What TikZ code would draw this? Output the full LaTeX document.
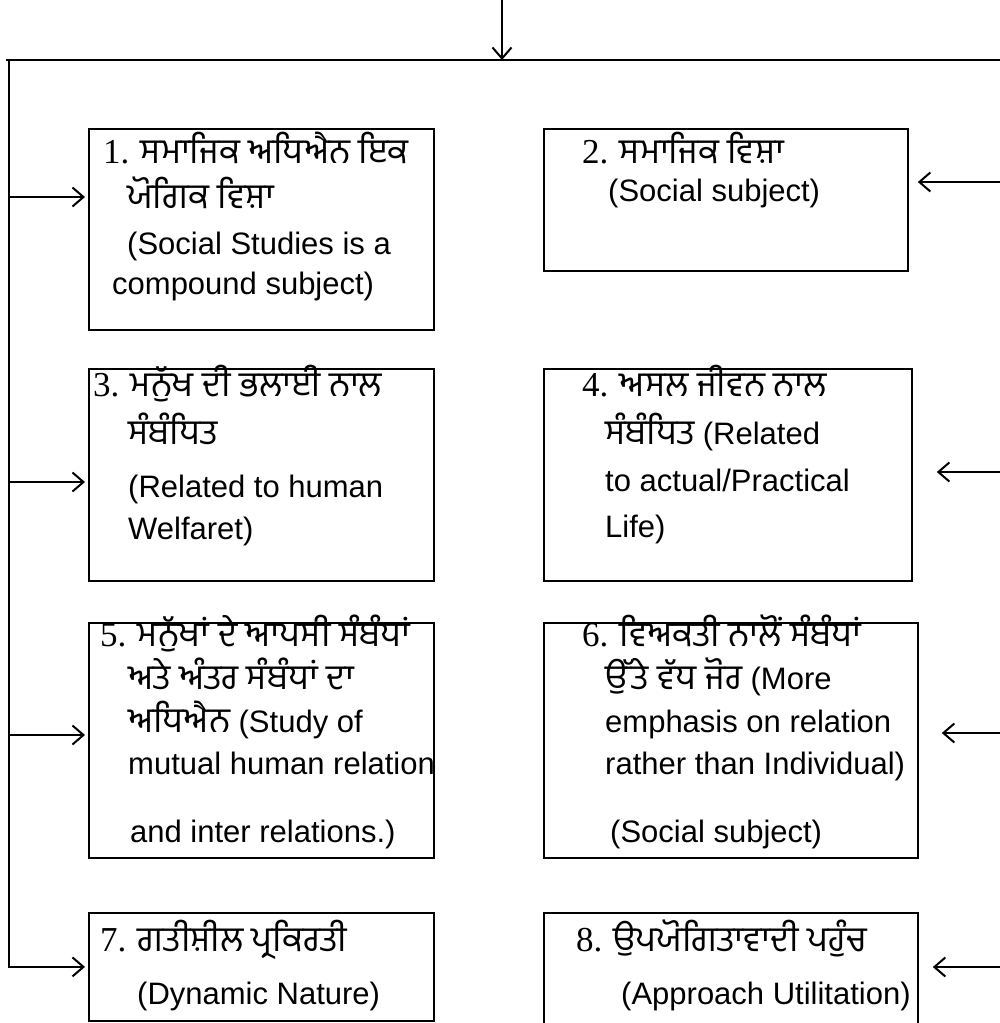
\documentclass[tikz,border=0pt]{standalone}
\usepackage{fontspec}
\setmainfont{Liberation Sans}
\newfontfamily\pafont[Script=Gurmukhi]{Hind Jalandhar}
\newfontfamily\nrfont{Liberation Serif}
\usetikzlibrary{arrows.meta,positioning,calc}
\newcommand{\PA}[1]{{\pafont\fontsize{35}{40}\selectfont #1}}
\newcommand{\NR}[1]{{\nrfont\fontsize{35}{40}\selectfont #1}}

\begin{document}
\begin{tikzpicture}[x=1pt,y=1pt,
  pbox/.style={draw,line width=1.8pt,inner sep=0pt,anchor=north west},
  txt/.style={anchor=west,inner sep=0pt,text height=22pt,text depth=7pt,font=\fontsize{31}{36}\selectfont},
  arr/.style={-{Straight Barb[length=11pt,width=19pt,line width=2pt]},line width=1.8pt}]
  \useasboundingbox (0,0) rectangle (999,-1023);

  % trunk
  \coordinate (top) at (502,3);
  \coordinate (hub) at (502,-60);
  \coordinate (tl) at (9,-60);
  \coordinate (tr) at (1005,-60);
  \draw[arr] (top) -- (hub);
  \draw[line width=2.6pt] (6,-60) -- (tr);

  % boxes
  \node[pbox,minimum width=345,minimum height=201] (b1) at (88,-128) {};
  \node[pbox,minimum width=364,minimum height=142] (b2) at (543,-128) {};
  \node[pbox,minimum width=345,minimum height=212] (b3) at (88,-368) {};
  \node[pbox,minimum width=368,minimum height=212] (b4) at (543,-368) {};
  \node[pbox,minimum width=345,minimum height=235] (b5) at (88,-622) {};
  \node[pbox,minimum width=374,minimum height=235] (b6) at (543,-622) {};
  \node[pbox,minimum width=345,minimum height=108] (b7) at (88,-912) {};
  \node[pbox,minimum width=374,minimum height=130] (b8) at (543,-912) {};

  % left
  \node[txt] (t1a) at (103,-156) {\NR{1.} \PA{ਸਮਾਜਿਕ ਅਧਿਐਨ ਇਕ}};
  \node[txt] (t1b) at (127,-201) {\PA{ਯੋਗਿਕ ਵਿਸ਼ਾ}};
  \node[txt] (t1c) at (127,-247) {(Social Studies is a};
  \node[txt] (t1d) at (112,-287) {compound subject)};

  \node[txt] (t3a) at (93,-389) {\NR{3.} \PA{ਮਨੁੱਖ ਦੀ ਭਲਾਈ ਨਾਲ}};
  \node[txt] (t3b) at (128,-437) {\PA{ਸੰਬੰਧਿਤ}};
  \node[txt] (t3c) at (128,-490) {(Related to human};
  \node[txt] (t3d) at (128,-532) {Welfaret)};

  \node[txt] (t5a) at (100,-639) {\NR{5.} \PA{ਮਨੁੱਖਾਂ ਦੇ ਆਪਸੀ ਸੰਬੰਧਾਂ}};
  \node[txt] (t5b) at (128,-682) {\PA{ਅਤੇ ਅੰਤਰ ਸੰਬੰਧਾਂ ਦਾ}};
  \node[txt] (t5c) at (128,-725) {\PA{ਅਧਿਐਨ} (Study of};
  \node[txt] (t5d) at (128,-767) {mutual human relation};
  \node[txt] (t5e) at (130,-835) {and inter relations.)};

  \node[txt] (t7a) at (100,-944) {\NR{7.} \PA{ਗਤੀਸ਼ੀਲ ਪ੍ਰਕਿਰਤੀ}};
  \node[txt] (t7b) at (137,-997) {(Dynamic Nature)};

  % right
  \node[txt] (t2a) at (582,-156) {\NR{2.} \PA{ਸਮਾਜਿਕ ਵਿਸ਼ਾ}};
  \node[txt] (t2b) at (608,-194) {(Social subject)};

  \node[txt] (t4a) at (582,-389) {\NR{4.} \PA{ਅਸਲ ਜੀਵਨ ਨਾਲ}};
  \node[txt] (t4b) at (605,-437) {\PA{ਸੰਬੰਧਿਤ} (Related};
  \node[txt] (t4c) at (605,-484) {to actual/Practical};
  \node[txt] (t4d) at (605,-530) {Life)};

  \node[txt] (t6a) at (582,-639) {\NR{6.} \PA{ਵਿਅਕਤੀ ਨਾਲੋਂ ਸੰਬੰਧਾਂ}};
  \node[txt] (t6b) at (605,-682) {\PA{ਉੱਤੇ ਵੱਧ ਜੋਰ} (More};
  \node[txt] (t6c) at (605,-725) {emphasis on relation};
  \node[txt] (t6d) at (605,-767) {rather than Individual)};
  \node[txt] (t6e) at (610,-835) {(Social subject)};

  \node[txt] (t8a) at (576,-944) {\NR{8.} \PA{ਉਪਯੋਗਿਤਾਵਾਦੀ ਪਹੁੰਚ}};
  \node[txt] (t8b) at (621,-997) {(Approach Utilitation)};

  % left connectors
  \coordinate (l1) at (10,-197);
  \coordinate (l3) at (10,-482);
  \coordinate (l5) at (10,-735);
  \draw[arr,shorten >=3pt] (l1) -- (l1 -| b1.west);
  \draw[arr,shorten >=3pt] (l3) -- (l3 -| b3.west);
  \draw[arr,shorten >=3pt] (l5) -- (l5 -| b5.west);
  \draw[arr,shorten >=3pt] (tl) |- (b7.west);

  % right connectors
  \coordinate (r2) at (1005,-182);
  \coordinate (r4) at (1005,-472);
  \coordinate (r6) at (1005,-733);
  \coordinate (r8) at (1005,-967);
  \draw[arr] (r2) -- ([xshift=9pt]r2 -| b2.east);
  \draw[arr] (r4) -- ([xshift=24pt]r4 -| b4.east);
  \draw[arr] (r6) -- ([xshift=23pt]r6 -| b6.east);
  \draw[arr] (r8) -- ([xshift=14pt]r8 -| b8.east);
\end{tikzpicture}
\end{document}
